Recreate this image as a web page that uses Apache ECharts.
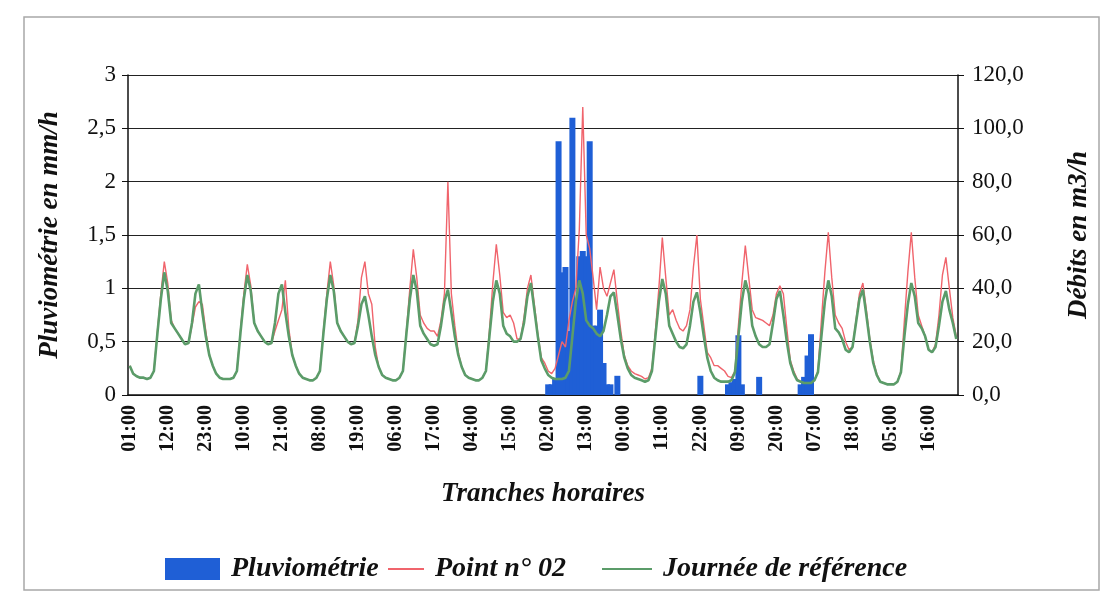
<!DOCTYPE html>
<html>
<head>
<meta charset="utf-8">
<script src="https://cdn.jsdelivr.net/npm/echarts@6/dist/echarts.min.js"></script>
<style>
html, body { margin: 0; background: #fff; }
#main { width: 1103px; height: 593px; }
</style>
</head>
<body>
<div id="main"></div>
<script>
// heures de la journée (01:00 .. 00:00), répétées sur 10 jours
var heures = ['01:00','02:00','03:00','04:00','05:00','06:00','07:00','08:00','09:00','10:00','11:00','12:00',
              '13:00','14:00','15:00','16:00','17:00','18:00','19:00','20:00','21:00','22:00','23:00','00:00'];

// pluviométrie en mm/h, une ligne par jour
var pluie = [
  [0,0,0,0,0,0,0,0,0,0,0,0, 0,0,0,0,0,0,0,0,0,0,0,0],
  [0,0,0,0,0,0,0,0,0,0,0,0, 0,0,0,0,0,0,0,0,0,0,0,0],
  [0,0,0,0,0,0,0,0,0,0,0,0, 0,0,0,0,0,0,0,0,0,0,0,0],
  [0,0,0,0,0,0,0,0,0,0,0,0, 0,0,0,0,0,0,0,0,0,0,0,0],
  [0,0,0,0,0,0,0,0,0,0,0,0, 0,0,0,0,0,0,0,0,0,0,0,0],
  [0,0.1,0.1,0.15,2.38,1.15,1.2,0.6,2.6,0.9,1.3,1.35, 1.3,2.38,0.65,0.65,0.8,0.3,0.1,0.1,0,0.18,0,0],
  [0,0,0,0,0,0,0,0,0,0,0,0, 0,0,0,0,0,0,0,0,0,0.18,0,0],
  [0,0,0,0,0,0.1,0.12,0.15,0.56,0.1,0,0, 0,0,0.17,0,0,0,0,0,0,0,0,0],
  [0,0,0.1,0.17,0.37,0.57,0,0,0,0,0,0, 0,0,0,0,0,0,0,0,0,0,0,0],
  [0,0,0,0,0,0,0,0,0,0,0,0, 0,0,0,0,0,0,0,0,0,0,0,0]
];

// débits mesurés au point n° 02, m3/h
var point02 = [
  [11,8,7,6.5,6.5,6,6.5,9,24,38,50,42, 28,25,23,21,19,19.5,26,33,35,34,24,15],
  [11,8,6.5,6,6,6,6.5,9,24,38,49,41, 27,24,22,20,19,19.5,24,28,32,43,25,15],
  [11,8,6.5,6,5.5,5.5,6.5,9,24,38,50,41, 27,24,22,20,19,19.5,28,44,50,38,34,18],
  [10.5,7.5,6.5,6,5.5,5.5,6.5,9,24,40,54.6,44, 30,27,25,24,24,22,28,38,80,38,26,16],
  [10.5,7.5,6.5,6,5.5,5.5,6.5,9,24,42,56.5,45, 31,29,30,27,21,21,29,40,45,34,23,14],
  [12,9,8,10,15,20,18,28,35,40,62,108, 60,55,44,32,48,40,37,42,47,35,24,15],
  [11,9,8,7.5,7,6,6.5,10,24,40,59,44, 30,32,28,25,24,26,32,48,60,36,26,16],
  [14,11,11,10,9,7,6.5,9,26,42,56,44, 32,29,28.5,28,27,26,30,38,41,38,25,13],
  [9,6,5,4.5,4.5,4.5,5.5,9,28,46,61,44, 30,27,25,20,17,18,28,38,42,32,21,13],
  [8,5,4.5,4,4,4,5,9,28,46,61,44, 30,26,22,17,16,19,30,45,51.6,40,29,22]
];

// journée de référence, m3/h
var reference = [
  [11,8,7,6.5,6.5,6,6.5,9,23,36,46,39, 27,25,23,21,19,19.5,27,38,41.5,31,22,15],
  [11,8,6.5,6,6,6,6.5,9,23,36,45,39, 27,24,22,20,19,19.5,27,38,41.5,31,22,15],
  [11,8,6.5,6,5.5,5.5,6.5,9,23,36,45,39, 27,24,22,20,19,19.5,26,34,37,30,22,15],
  [10.5,7.5,6.5,6,5.5,5.5,6.5,9,23,36,45,39, 26,23,21,19,18.5,19,26,35,39.5,31,22,15],
  [10.5,7.5,6.5,6,5.5,5.5,6.5,9,22,35,43,38, 26,23,22,20,20,21,27,37,42,32,22,13],
  [10,7.5,6.5,6,6,6,6.5,9,22,35,43,38, 28,26,25,23,22,24,30,37,38.5,30,21,14],
  [10,7.5,6.5,6,5.5,5,5.5,9,22,35,43.5,38, 26,23,20,18,17.5,19,26,35,38.5,31,22,14],
  [9,6.5,5.5,5,5,5,5.5,8.5,22,35,43,38, 26,22,19,18,18,19,27,36,39,30,20,12],
  [8,5.5,5,4.5,4.5,4.5,5.5,8.5,22,35,43,37, 25,23.5,21,17,16,18,27,36,39.5,30,20,12],
  [7.5,5,4.5,4,4,4,5,8.5,22,34,42,37, 27,25,22,17,16,18,26,35,39,32,27,21]
];

var categories = [];
for (var d = 0; d < pluie.length; d++) {
  categories = categories.concat(heures);
}
function aplatir(rows) {
  var out = [];
  for (var i = 0; i < rows.length; i++) out = out.concat(rows[i]);
  return out;
}

var serif = 'Liberation Serif';
var titre = { fontFamily: serif, fontStyle: 'italic', fontWeight: 'bold', fontSize: 27, color: '#111' };
var texteLegende = { fontFamily: serif, fontStyle: 'italic', fontWeight: 'bold', fontSize: 28, color: '#111', padding: [0, 0, 0, 6] };

var myChart = echarts.init(document.getElementById('main'));

myChart.setOption({
  animation: false,
  backgroundColor: '#fff',
  graphic: [{
    type: 'rect',
    shape: { x: 24, y: 17, width: 1075, height: 573 },
    style: { fill: 'none', stroke: '#a8a8a8', lineWidth: 1.5 },
    silent: true
  }],
  grid: { left: 128, right: 145, top: 75, bottom: 198, outerBoundsMode: 'none', containLabel: false },
  legend: [{
    left: 160, top: 550, itemWidth: 55, itemHeight: 22,
    textStyle: texteLegende,
    data: [{ name: 'Pluviométrie', icon: 'rect' }]
  }, {
    left: 382, top: 550, itemWidth: 36, itemHeight: 22,
    textStyle: texteLegende,
    data: [{ name: 'Point n° 02', itemStyle: { opacity: 0 } }]
  }, {
    left: 596, top: 550, itemWidth: 50, itemHeight: 22,
    textStyle: texteLegende,
    data: [{ name: 'Journée de référence', itemStyle: { opacity: 0 } }]
  }],
  xAxis: {
    type: 'category',
    data: categories,
    name: 'Tranches horaires',
    nameLocation: 'middle',
    nameGap: 86,
    nameTextStyle: titre,
    axisLine: { lineStyle: { color: '#111', width: 1.5 } },
    axisTick: { interval: 0, length: 6, lineStyle: { color: '#222' } },
    axisLabel: {
      interval: 10,
      rotate: 90,
      margin: 10,
      fontFamily: serif,
      fontWeight: 'bold',
      fontSize: 20,
      color: '#111'
    }
  },
  yAxis: [{
    type: 'value',
    min: 0, max: 3, interval: 0.5,
    name: 'Pluviométrie en mm/h',
    nameLocation: 'middle',
    nameRotate: 90,
    nameGap: 64,
    nameTextStyle: titre,
    axisLine: { show: true, lineStyle: { color: '#111', width: 1.5 } },
    axisTick: { show: true, length: 6, lineStyle: { color: '#111' } },
    axisLabel: {
      margin: 12,
      fontFamily: serif, fontSize: 23, color: '#111',
      formatter: function (v) { return String(v).replace('.', ','); }
    },
    splitLine: { show: true, lineStyle: { color: '#222', width: 1 } }
  }, {
    type: 'value',
    min: 0, max: 120, interval: 20,
    position: 'right',
    name: 'Débits en m3/h',
    nameLocation: 'middle',
    nameRotate: 90,
    nameGap: 108,
    nameTextStyle: titre,
    axisLine: { show: true, lineStyle: { color: '#111', width: 1.5 } },
    axisTick: { show: true, length: 6, lineStyle: { color: '#111' } },
    axisLabel: {
      margin: 14,
      fontFamily: serif, fontSize: 23, color: '#111',
      formatter: function (v) { return v.toFixed(1).replace('.', ','); }
    },
    splitLine: { show: false }
  }],
  series: [{
    name: 'Pluviométrie',
    type: 'bar',
    yAxisIndex: 0,
    barWidth: 6,
    itemStyle: { color: '#1f5fd6' },
    data: aplatir(pluie),
    z: 2
  }, {
    name: 'Point n° 02',
    type: 'line',
    yAxisIndex: 1,
    symbol: 'none',
    lineStyle: { color: '#f0646c', width: 1.4 },
    itemStyle: { color: '#f0646c' },
    data: aplatir(point02),
    z: 3
  }, {
    name: 'Journée de référence',
    type: 'line',
    yAxisIndex: 1,
    symbol: 'none',
    lineStyle: { color: '#5b9c69', width: 2.6 },
    itemStyle: { color: '#5b9c69' },
    data: aplatir(reference),
    z: 4
  }]
});
</script>
</body>
</html>
